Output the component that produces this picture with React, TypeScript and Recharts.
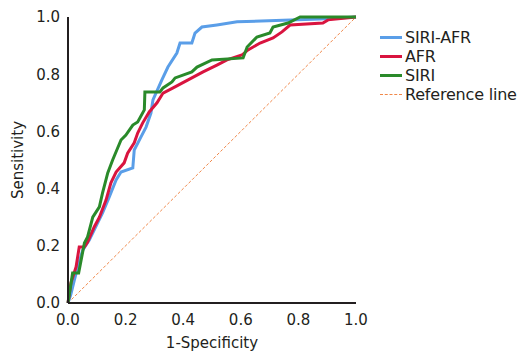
import React from "react";
import {
  LineChart,
  Line,
  XAxis,
  YAxis,
} from "recharts";

// 1-specificity / sensitivity pairs
const siriAfrFpr = [0, 0.01, 0.022, 0.034, 0.051, 0.074, 0.103, 0.12, 0.143, 0.167, 0.184, 0.225, 0.23, 0.253, 0.271, 0.288, 0.295, 0.326, 0.347, 0.378, 0.389, 0.43, 0.441, 0.465, 0.517, 0.587, 0.875, 1];
const siriAfrTpr = [0, 0.03, 0.08, 0.126, 0.185, 0.22, 0.28, 0.315, 0.37, 0.43, 0.458, 0.472, 0.535, 0.58, 0.615, 0.664, 0.71, 0.78, 0.825, 0.874, 0.909, 0.909, 0.944, 0.965, 0.972, 0.983, 0.993, 1];

const afrFpr = [0, 0.01, 0.028, 0.039, 0.057, 0.068, 0.091, 0.109, 0.132, 0.149, 0.167, 0.195, 0.207, 0.23, 0.242, 0.259, 0.282, 0.309, 0.33, 0.365, 0.417, 0.469, 0.517, 0.552, 0.604, 0.625, 0.667, 0.712, 0.743, 0.771, 0.885, 0.903, 1];
const afrTpr = [0, 0.07, 0.126, 0.196, 0.196, 0.213, 0.266, 0.3, 0.36, 0.42, 0.458, 0.49, 0.524, 0.56, 0.594, 0.629, 0.668, 0.7, 0.734, 0.752, 0.78, 0.808, 0.832, 0.85, 0.867, 0.885, 0.909, 0.927, 0.948, 0.972, 0.979, 0.99, 1];

const siriFpr = [0, 0.016, 0.037, 0.057, 0.068, 0.086, 0.109, 0.12, 0.138, 0.155, 0.184, 0.201, 0.225, 0.242, 0.265, 0.267, 0.319, 0.33, 0.361, 0.372, 0.43, 0.448, 0.5, 0.608, 0.622, 0.656, 0.701, 0.712, 0.764, 0.806, 1];
const siriTpr = [0, 0.105, 0.105, 0.21, 0.231, 0.3, 0.336, 0.385, 0.455, 0.5, 0.57, 0.587, 0.622, 0.633, 0.675, 0.738, 0.738, 0.752, 0.773, 0.787, 0.808, 0.825, 0.85, 0.857, 0.895, 0.93, 0.944, 0.965, 0.979, 1, 1];

const refFpr = [0, 1];
const refTpr = [0, 1];

const ticks = [0, 0.2, 0.4, 0.6, 0.8, 1];

const toPoints = (xs: number[], ys: number[]) =>
  xs.map((x, i) => ({ x, y: ys[i] }));

const series = [
  { name: "SIRI-AFR", color: "#5a9ee8", points: toPoints(siriAfrFpr, siriAfrTpr) },
  { name: "AFR", color: "#d9143f", points: toPoints(afrFpr, afrTpr) },
  { name: "SIRI", color: "#2a8a2a", points: toPoints(siriFpr, siriTpr) },
];

const refColor = "#f0884a";
const font = "'DejaVu Sans', Verdana, sans-serif";
const textColor = "#231f20";

// legend drawn next to the plot, outside recharts' layout
const LegendBox = () => (
  <div
    style={{
      position: "absolute",
      left: 380,
      top: 28,
      fontFamily: font,
      fontSize: 16,
      letterSpacing: -0.2,
      color: textColor,
      whiteSpace: "nowrap",
    }}
  >
    {series.map((s) => (
      <div key={s.name} style={{ display: "flex", alignItems: "center", height: 19 }}>
        <span style={{ width: 22, height: 3, background: s.color, marginRight: 3 }} />
        <span>{s.name}</span>
      </div>
    ))}
    <div style={{ display: "flex", alignItems: "center", height: 19 }}>
      <span style={{ width: 22, borderTop: `1px dashed ${refColor}`, marginRight: 3 }} />
      <span>Reference line</span>
    </div>
  </div>
);

const App = () => {
  return (
    <div style={{ position: "fixed", left: 0, top: 0, width: 521, height: 353, background: "#fff" }}>
      <LineChart
        width={521}
        height={353}
        margin={{ top: 17, right: 165, bottom: 0, left: 0 }}
      >
        <XAxis
          dataKey="x"
          type="number"
          domain={[0, 1]}
          ticks={ticks}
          tickFormatter={(v: number) => v.toFixed(1)}
          allowDuplicatedCategory={false}
          tickLine={false}
          tickSize={9}
          height={50}
          axisLine={{ stroke: "#231f20", strokeWidth: 2 }}
          tick={{ fill: textColor, fontSize: 15, fontFamily: font }}
          label={{
            value: "1-Specificity",
            position: "insideBottom",
            offset: 5,
            fill: textColor,
            fontSize: 15,
            fontFamily: font,
          }}
        />
        <YAxis
          dataKey="y"
          type="number"
          domain={[0, 1]}
          ticks={ticks}
          tickFormatter={(v: number) => v.toFixed(1)}
          tickLine={false}
          tickSize={6}
          width={68}
          axisLine={{ stroke: "#231f20", strokeWidth: 2 }}
          tick={{ fill: textColor, fontSize: 15, fontFamily: font }}
          label={{
            value: "Sensitivity",
            angle: -90,
            position: "insideLeft",
            offset: 18,
            fill: textColor,
            fontSize: 15,
            fontFamily: font,
            style: { textAnchor: "middle" },
          }}
        />
        <Line
          data={toPoints(refFpr, refTpr)}
          dataKey="y"
          name="Reference line"
          type="linear"
          stroke={refColor}
          strokeWidth={1}
          strokeDasharray="3 2"
          dot={false}
          isAnimationActive={false}
        />
        {series.map((s) => (
          <Line
            key={s.name}
            data={s.points}
            dataKey="y"
            name={s.name}
            type="linear"
            stroke={s.color}
            strokeWidth={3}
            dot={false}
            isAnimationActive={false}
          />
        ))}
      </LineChart>
      <LegendBox />
    </div>
  );
};

export default App;
